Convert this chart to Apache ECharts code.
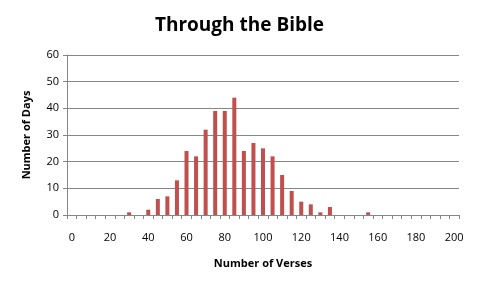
<!DOCTYPE html>
<html><head><meta charset="utf-8">
<script src="https://cdn.jsdelivr.net/npm/echarts@6/dist/echarts.min.js"></script>
<style>html,body{margin:0;padding:0;background:#fff}#c{width:479px;height:287px}</style>
</head><body><div id="c"></div>
<script>
const categories = [];
for (let v = 0; v <= 200; v += 5) categories.push(String(v));
const verseBins = ['30','40','45','50','55','60','65','70','75','80','85','90','95','100','105','110','115','120','125','130','135','155'];
const dayCounts = [1,2,6,7,13,24,22,32,39,39,44,24,27,25,22,15,9,5,4,1,3,1];
const yTicks = [0,10,20,30,40,50,60];

const values = categories.map(c => { const i = verseBins.indexOf(c); return i >= 0 ? dayCounts[i] : 0; });

const chart = echarts.init(document.getElementById('c'));
const font = 'Open Sans, Liberation Sans, sans-serif';
chart.setOption({
  animation: false,
  title: { text: 'Through the Bible', left: 'center', top: 11,
    textStyle: { fontFamily: font, fontWeight: 'bold', fontSize: 19, color: '#000' } },
  grid: { left: 67, right: 20, top: 55, bottom: 72 },
  xAxis: {
    type: 'category', data: categories, boundaryGap: true,
    name: 'Number of Verses', nameLocation: 'middle', nameGap: 43,
    nameTextStyle: { fontFamily: font, fontWeight: 'bold', fontSize: 11, color: '#000' },
    axisLine: { lineStyle: { color: '#868686' } },
    axisTick: { show: true, interval: 0, length: 4, lineStyle: { color: '#868686' } },
    axisLabel: { interval: 3, fontFamily: font, fontSize: 11, color: '#000', margin: 17 }
  },
  yAxis: {
    type: 'value', min: 0, max: 60, interval: 10,
    name: 'Number of Days', nameLocation: 'middle', nameGap: 35, nameRotate: 90,
    nameTextStyle: { fontFamily: font, fontWeight: 'bold', fontSize: 11, color: '#000' },
    axisLine: { show: true, lineStyle: { color: '#868686' } },
    axisTick: { show: true, length: 4, lineStyle: { color: '#868686' } },
    axisLabel: { fontFamily: font, fontSize: 11, color: '#000', margin: 8 },
    splitLine: { lineStyle: { color: '#868686', width: 1 } }
  },
  series: [{ type: 'bar', data: values, barWidth: '42%', itemStyle: { color: '#C0504D' } }]
});
</script></body></html>
